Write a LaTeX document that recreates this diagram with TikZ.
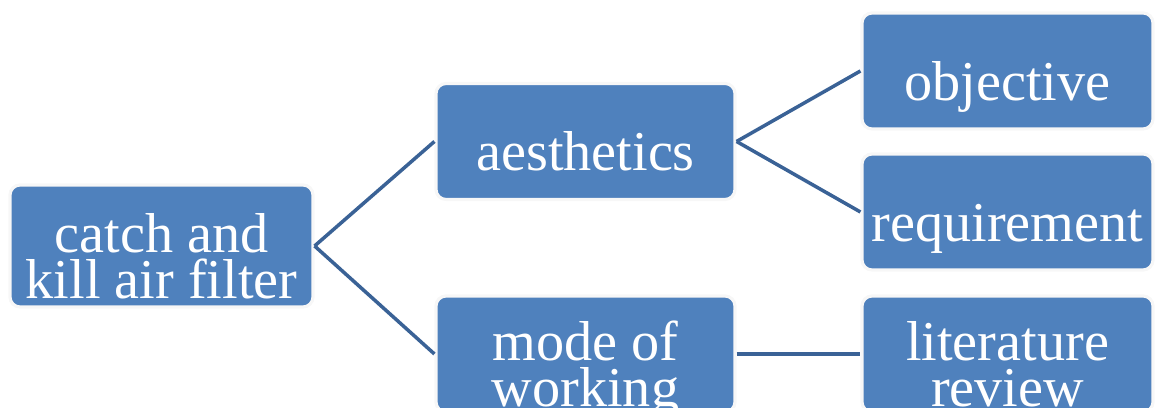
\documentclass[tikz,border=0pt]{standalone}
\usepackage{fontspec}
\setmainfont{Liberation Serif}
\definecolor{boxblue}{RGB}{79,129,189}
\definecolor{linkblue}{RGB}{58,98,150}

\begin{document}
\begin{tikzpicture}
		\tikzstyle{every node} = [font = \fontsize{16}{13}\selectfont]
		\tikzstyle{topic} = [rectangle, rounded corners = .1cm, fill = boxblue, draw = gray!6, line width = .9pt, text = white, align = center, minimum width = 2.95cm, minimum height = 1.16cm, text height = .59cm, text depth = 0cm, inner sep = 0pt]
		\tikzstyle{twolines} = [text height = 1.05cm]
		\tikzstyle{link} = [linkblue, line width = 1pt]
		\useasboundingbox (0,0) rectangle (11.55,4.08);

		% first level
		\node [topic, twolines, minimum width = 3.03cm, minimum height = 1.22cm] (filter) at (1.615,1.62) {catch and\\kill air filter};
		% second level
		\node [topic, minimum width = 2.99cm] (aesthetics) at (5.855,2.665) {aesthetics};
		\node [topic, twolines, minimum width = 2.99cm] (mode) at (5.855,.54) {mode of\\working};
		% third level
		\node [topic, minimum width = 2.91cm] (objective) at (10.075,3.37) {objective};
		\node [topic, minimum width = 2.91cm] (requirement) at (10.075,1.96) {requirement};
		\node [topic, twolines, minimum width = 2.91cm] (review) at (10.075,.54) {literature\\review};

		\draw [link] (filter.east) -- (aesthetics.west); %filter to aesthetics
		\draw [link] (filter.east) -- (mode.west); %filter to mode
		\draw [link] (aesthetics.east) -- (objective.west); %aesthetics to objective
		\draw [link] (aesthetics.east) -- (requirement.west); %aesthetics to requirement
		\draw [link] (mode.east) -- (review.west); %mode to review
	\end{tikzpicture}
\end{document}
